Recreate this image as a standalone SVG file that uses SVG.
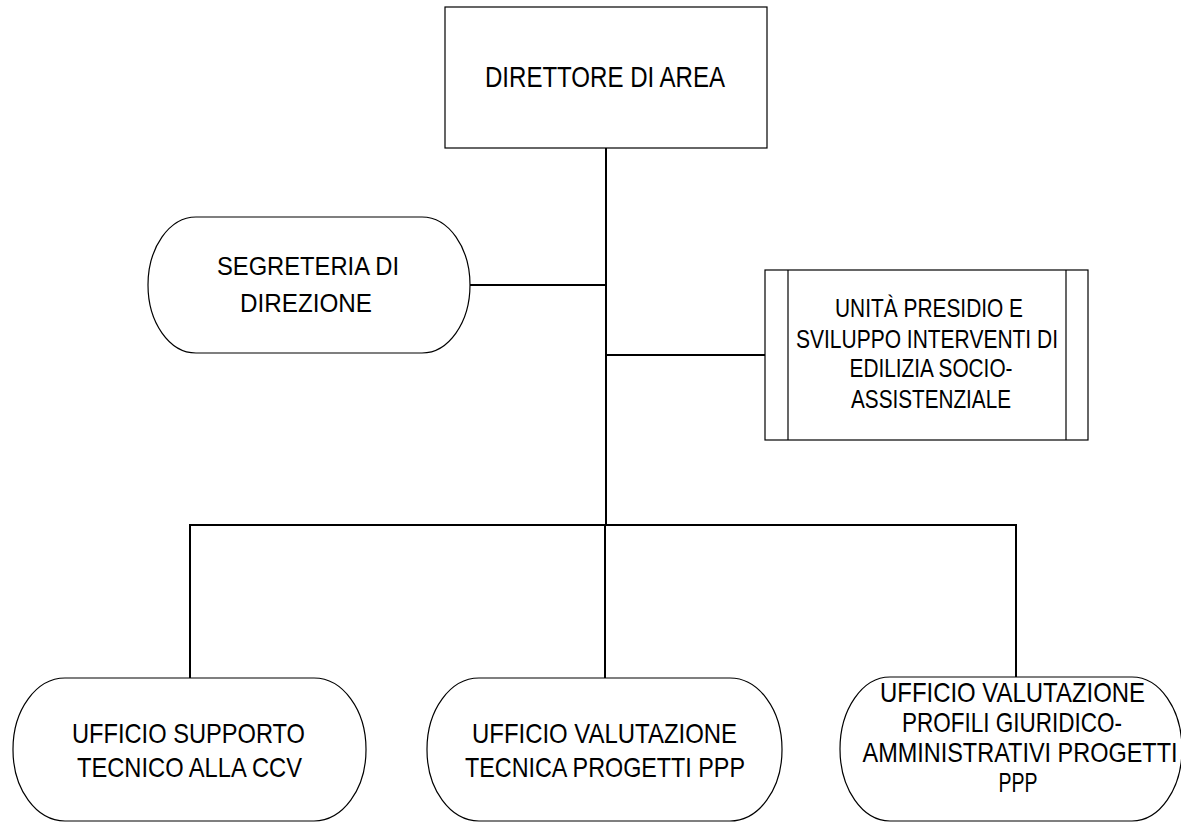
<svg xmlns="http://www.w3.org/2000/svg" width="1181" height="822" viewBox="0 0 1181 822">
<style>
.box{fill:#fff;stroke:#000;stroke-width:1.2}
.con{stroke:#000;stroke-width:2;fill:none}
text{font-family:"Liberation Sans",Arial,sans-serif;fill:#000;text-anchor:middle}
.t29{font-size:29px}
.t26{font-size:26px}
.t25{font-size:25px}
.t28{font-size:28px}
</style>
<rect width="1181" height="822" fill="#fff"/>
<g id="connectors">
<line class="con" x1="606" y1="148" x2="606" y2="525"/>
<line class="con" x1="470" y1="285" x2="606" y2="285"/>
<line class="con" x1="606" y1="355" x2="765" y2="355"/>
<line class="con" x1="189" y1="525" x2="1017" y2="525"/>
<line class="con" x1="190" y1="524" x2="190" y2="678"/>
<line class="con" x1="605" y1="525" x2="605" y2="678"/>
<line class="con" x1="1016" y1="524" x2="1016" y2="677"/>
</g>
<g id="direttore">
<rect class="box" x="445" y="7" width="322" height="141"/>
<text class="t29" x="605" y="87" textLength="240" lengthAdjust="spacingAndGlyphs">DIRETTORE DI AREA</text>
</g>
<g id="segreteria">
<rect class="box" x="148" y="217" width="322" height="136" rx="48" ry="68"/>
<text class="t26" x="308" y="275" textLength="182" lengthAdjust="spacingAndGlyphs">SEGRETERIA DI</text>
<text class="t26" x="306" y="312" textLength="132" lengthAdjust="spacingAndGlyphs">DIREZIONE</text>
</g>
<g id="unita">
<rect class="box" x="765" y="270" width="323" height="170"/>
<line class="box" x1="788" y1="270" x2="788" y2="440"/>
<line class="box" x1="1066" y1="270" x2="1066" y2="440"/>
<text class="t25" x="929" y="317" textLength="188" lengthAdjust="spacingAndGlyphs">UNITÀ PRESIDIO E</text>
<text class="t25" x="927" y="348" textLength="262" lengthAdjust="spacingAndGlyphs">SVILUPPO INTERVENTI DI</text>
<text class="t25" x="931" y="377" textLength="163" lengthAdjust="spacingAndGlyphs">EDILIZIA SOCIO-</text>
<text class="t25" x="931" y="408" textLength="160" lengthAdjust="spacingAndGlyphs">ASSISTENZIALE</text>
</g>
<g id="supporto">
<rect class="box" x="13" y="678" width="353" height="143" rx="52" ry="71"/>
<text class="t28" x="188.5" y="743" textLength="233" lengthAdjust="spacingAndGlyphs">UFFICIO SUPPORTO</text>
<text class="t28" x="189.5" y="777" textLength="225" lengthAdjust="spacingAndGlyphs">TECNICO ALLA CCV</text>
</g>
<g id="valutazione-tecnica">
<rect class="box" x="427" y="678" width="355" height="143" rx="52" ry="71"/>
<text class="t28" x="604.5" y="743" textLength="265" lengthAdjust="spacingAndGlyphs">UFFICIO VALUTAZIONE</text>
<text class="t28" x="605" y="777" textLength="280" lengthAdjust="spacingAndGlyphs">TECNICA PROGETTI PPP</text>
</g>
<g id="valutazione-giuridica">
<rect class="box" x="840" y="677" width="342" height="144" rx="50" ry="72"/>
<text class="t28" x="1012.5" y="702" textLength="265" lengthAdjust="spacingAndGlyphs">UFFICIO VALUTAZIONE</text>
<text class="t28" x="1012" y="732" textLength="220" lengthAdjust="spacingAndGlyphs">PROFILI GIURIDICO-</text>
<text class="t28" x="1020" y="762" textLength="315" lengthAdjust="spacingAndGlyphs">AMMINISTRATIVI PROGETTI</text>
<text class="t28" x="1018" y="792" textLength="39" lengthAdjust="spacingAndGlyphs">PPP</text>
</g>
</svg>
